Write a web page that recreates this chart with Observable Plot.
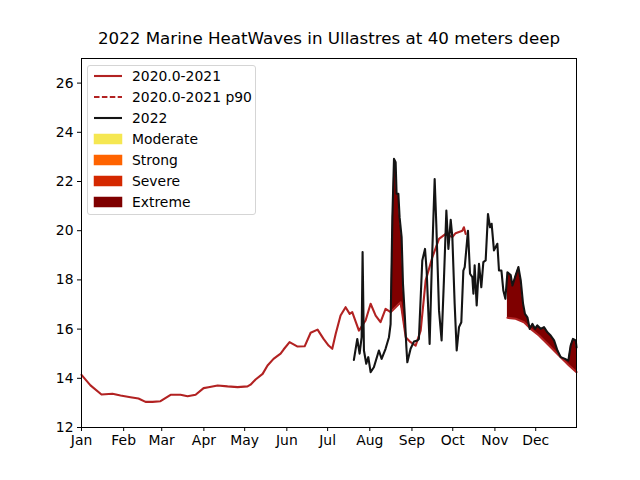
<!DOCTYPE html>
<html><head><meta charset="utf-8">
<script src="https://cdn.jsdelivr.net/npm/d3@7"></script>
<script src="https://cdn.jsdelivr.net/npm/@observablehq/plot@0.6"></script>
<style>
body{margin:0;background:#fff;font-family:"DejaVu Sans",sans-serif;}
#wrap{position:relative;width:640px;height:480px;overflow:hidden;}
#chart{position:absolute;left:0;top:0;}
#legend{position:absolute;left:87px;top:65px;width:169px;height:150px;border:1px solid #d5d5d5;border-radius:3px;background:rgba(255,255,255,0.85);box-sizing:border-box;}
.item{position:absolute;left:0;height:20px;width:100%;font-size:13.9px;color:#000;}
.item span{position:absolute;left:44px;top:0;line-height:20px;white-space:nowrap;}
.item svg{position:absolute;left:5px;top:0;}
</style></head>
<body><div id="wrap"><div id="chart"></div><div id="legend"></div></div>
<script>
const titleText = "2022 Marine HeatWaves in Ullastres at 40 meters deep";

// climatology 2020.0-2021 (day of year, °C); null = gap
const climDay = [1,7.6,15.7,23.8,29.7,37,42.9,48.1,53.2,59.1,66.5,73.8,79,84.9,90.8,94.4,101.1,108.4,115.8,123.1,125.3,129,134.2,137.8,142.2,147.4,149.6,154,159.9,165.1,169.5,174.6,179,182.7,185.4,187.9,191.5,195.2,198.2,200.1,205,209.9,213.6,217.3,220.9,224.6,228.3,232,235.7,239.4,243,246.7,250.4,254.1,259,263.9,268.8,273.7,276.1,281.1,282.2,283.5,
  300,
  314.2,320.3,326.4,331.3,337.4,344.8,352.1,359.5,365];
const climVal = [14.14,13.71,13.34,13.37,13.30,13.23,13.18,13.04,13.04,13.07,13.33,13.33,13.27,13.33,13.60,13.64,13.71,13.67,13.64,13.67,13.74,13.95,14.18,14.52,14.79,15.0,15.17,15.47,15.29,15.30,15.85,15.98,15.6,15.33,15.2,15.8,16.55,16.89,16.62,16.69,15.94,16.35,17.03,16.55,16.28,16.82,16.69,16.89,17.09,15.67,15.47,15.33,15.94,17.98,18.92,19.67,19.87,19.74,19.9,20.0,20.14,19.87,
  null,
  16.46,16.42,16.28,16.01,15.74,15.33,14.93,14.52,14.25];

// 2022 temperature
const tDay = [201.3,203.8,205.5,207.0,207.7,208.7,210.4,211.9,213.6,216.0,219.7,221.7,224.6,227.1,228.3,229.6,230.8,232.0,232.7,234.0,234.9,236.4,237.4,238.8,239.9,240.6,243.0,245.5,248.0,249.1,251.6,253.6,254.8,257.0,258.5,260.7,261.9,263.9,265.8,267.5,269.3,270.8,272.5,273.7,275.4,276.9,278.6,280.3,281.8,282.8,285.2,286.7,288.4,289.2,290.1,291.6,293.3,295.0,296.5,298.2,299.9,301.4,302.6,304.3,305.5,306.8,308.0,309.8,311.2,312.7,314.2,316.6,317.9,319.8,322.3,324.0,325.7,327.1,328.9,330.6,332.6,334.5,336.2,338.7,341.1,343.6,346.0,348.5,351.0,353.4,356.6,359.0,360.7,362.4,364.4,365];
const tVal = [14.75,15.6,15.0,15.67,19.13,15.13,14.59,14.86,14.25,14.45,15.13,14.79,15.2,15.67,16.2,20.55,22.92,22.78,21.5,21.5,20.55,19.74,17.84,16.48,15.26,14.65,15.2,15.5,15.54,15.6,18.79,19.26,18.38,15.4,18.38,22.1,20.27,16.76,15.54,17.98,20.82,19.26,20.44,19.74,17.03,15.13,16.08,16.28,18.38,18.52,20.0,18.25,18.11,17.44,18.59,16.96,18.65,17.7,18.72,18.79,20.68,20.14,20.28,19.2,19.33,19.47,18.38,18.38,17.57,17.23,18.31,18.2,17.77,18.11,18.52,17.98,17.03,16.62,16.48,16.01,16.21,16.01,16.15,16.01,16.08,15.87,15.74,15.54,15.13,14.86,14.79,14.72,15.33,15.6,15.54,15.26];

// detected heatwave events
const eventStart = [228.3, 314.2];
const eventEnd = [240.6, 365];
const eventCat = ["Extreme", "Extreme"];

const catNames = ["Moderate","Strong","Severe","Extreme"];
const catColors = ["#f5e752","#ff6300","#d42800","#7f0000"];
const monthLabels = ["Jan","Feb","Mar","Apr","May","Jun","Jul","Aug","Sep","Oct","Nov","Dec"];
const yTicks = [12,14,16,18,20,22,24,26];

const lineColor = "#b22222";
const toDate = d => new Date(Date.UTC(2022,0,1) + (d-1)*864e5);

const clim = climDay.map((d,i)=>({date:toDate(d), day:d, v:climVal[i]}));
const temp = tDay.map((d,i)=>({date:toDate(d), day:d, v:tVal[i]}));

function climAt(day){
  const pts = clim.filter(p=>p.v!=null);
  for(let i=0;i<pts.length-1;i++){
    const a=pts[i], b=pts[i+1];
    if(day>=a.day && day<=b.day){ const t=(day-a.day)/(b.day-a.day||1); return a.v+(b.v-a.v)*t; }
  }
  return pts[pts.length-1].v;
}
const fills = [];
eventStart.forEach((s,k)=>{
  temp.filter(p=>p.day>=s && p.day<=eventEnd[k]).forEach(p=>{
    const c = climAt(p.day);
    fills.push({date:p.date, y1:c, y2:Math.max(p.v,c), ev:k, cat:eventCat[k]});
  });
});

const monthTicks = d3.range(12).map(m=>new Date(Date.UTC(2022,m,1)));

const chart = Plot.plot({
  width:640, height:480,
  marginLeft:81, marginRight:64, marginTop:58, marginBottom:53,
  style:{fontFamily:"DejaVu Sans, sans-serif", fontSize:"13.9px", color:"#000", background:"#fff"},
  x:{type:"utc", domain:[toDate(1), toDate(365)]},
  y:{domain:[12,27]},
  color:{domain:catNames, range:catColors},
  marks:[
    Plot.areaY(fills,{x:"date", y1:"y1", y2:"y2", z:"ev", fill:d=>catColors[catNames.indexOf(d.cat)], curve:"linear"}),
    Plot.lineY(clim,{x:"date", y:"v", stroke:lineColor, strokeWidth:2.1}),
    Plot.lineY(temp,{x:"date", y:"v", stroke:"#141414", strokeWidth:2.1}),
    Plot.frame({stroke:"#000", strokeWidth:1}),
    Plot.axisX({ticks:monthTicks, tickFormat:(d,i)=>monthLabels[d.getUTCMonth()], tickSize:4, tickPadding:4, label:null, fontSize:"13.9px"}),
    Plot.axisY({ticks:yTicks, tickSize:4, tickPadding:4, label:null, fontSize:"13.9px"}),
    Plot.text([titleText],{frameAnchor:"top", text:d=>d, dy:-15, fontSize:"16.7px", lineAnchor:"bottom"})
  ]
});
document.getElementById("chart").appendChild(chart);

// legend
const legendLabels = ["2020.0-2021","2020.0-2021 p90","2022", ...catNames];
const legendKinds = ["line","dash","line","patch","patch","patch","patch"];
const legendColors = [lineColor, lineColor, "#141414", ...catColors];
const lg = document.getElementById("legend");
legendLabels.forEach((lab,i)=>{
  const it = document.createElement("div");
  it.className="item"; it.style.top = (-0.5 + i*21.1)+"px";
  let sw;
  if(legendKinds[i]==="patch") sw = `<svg width="30" height="20"><rect x="1" y="5" width="28" height="10" fill="${legendColors[i]}" stroke="${legendColors[i]}" stroke-width="0.5"/></svg>`;
  else sw = `<svg width="30" height="20"><line x1="1" x2="29" y1="10" y2="10" stroke="${legendColors[i]}" stroke-width="2.1" ${legendKinds[i]==="dash"?'stroke-dasharray="5.5 2.4"':''}/></svg>`;
  it.innerHTML = sw + `<span>${lab}</span>`;
  lg.appendChild(it);
});
</script></body></html>
